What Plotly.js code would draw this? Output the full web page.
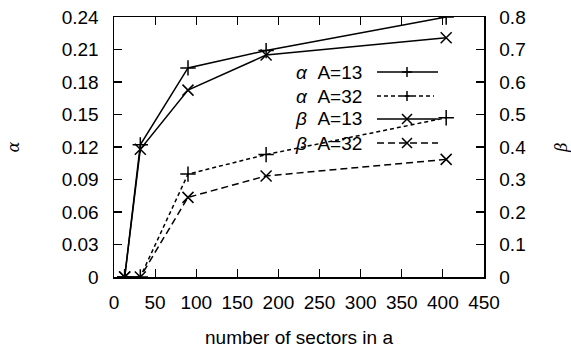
<!DOCTYPE html>
<html>
<head>
<meta charset="utf-8">
<script src="https://cdn.plot.ly/plotly-3.0.1.min.js"></script>
<style>html,body{margin:0;padding:0;background:#fff;}#chart{width:571px;height:348px;}</style>
</head>
<body>
<div id="chart"></div>
<script>
// Data
const sectors = [13, 32, 90, 185, 404];
const alphaA13 = [0, 0.122, 0.193, 0.209, 0.240];
const alphaA32 = [0, 0, 0.095, 0.113, 0.147];
const betaA13 = [0, 0.393, 0.575, 0.683, 0.736];
const betaA32 = [0, 0, 0.245, 0.311, 0.362];
const seriesNames = ['<i>α</i>  A=13', '<i>α</i>  A=32', '<i>β</i>  A=13', '<i>β</i>  A=32'];
const xTicks = [0, 50, 100, 150, 200, 250, 300, 350, 400, 450];
const yTicks = [0, 0.03, 0.06, 0.09, 0.12, 0.15, 0.18, 0.21, 0.24];
const y2Ticks = [0, 0.1, 0.2, 0.3, 0.4, 0.5, 0.6, 0.7, 0.8];

const FONT = 'Liberation Sans, Arial, sans-serif';
const W = 571, H = 348, L = 114, R = 87, T = 17, B = 71;
const styles = [
  {dash: 'solid', symbol: 'cross-thin-open', axis: 'y'},
  {dash: '4px,3px', symbol: 'cross-thin-open', axis: 'y'},
  {dash: 'solid', symbol: 'x-thin-open', axis: 'y2'},
  {dash: '7px,4px', symbol: 'x-thin-open', axis: 'y2'}
];
const ys = [alphaA13, alphaA32, betaA13, betaA32];

const traces = ys.map((v, i) => ({
  x: sectors, y: v, yaxis: styles[i].axis, type: 'scatter', mode: 'lines+markers',
  name: seriesNames[i], showlegend: false,
  line: {color: '#000', width: 1.5, dash: styles[i].dash},
  marker: {symbol: styles[i].symbol, size: 11, color: '#000', line: {color: '#000', width: 1.5}}
}));

// Custom gnuplot-style key: text right-aligned, sample on the right
const px = x => (x - L) / (W - L - R);
const py = y => 1 - (y - T) / (H - T - B);
const keyY = [72, 96, 119, 143];
const keyEnd = [438, 434, 438, 438];
const shapes = [], annotations = [];
keyY.forEach((yy, i) => {
  annotations.push({xref: 'paper', yref: 'paper', x: px(364), y: py(yy), xanchor: 'right', yanchor: 'middle',
    text: seriesNames[i], showarrow: false, font: {family: FONT, size: 19, color: '#000'}});
  shapes.push({type: 'line', xref: 'paper', yref: 'paper', x0: px(377), x1: px(keyEnd[i]), y0: py(yy), y1: py(yy),
    line: {color: '#000', width: 1.5, dash: styles[i].dash}});
  const cx = 407, s = 5;
  const path = styles[i].symbol.startsWith('cross')
    ? `M${px(cx - s)},${py(yy)} L${px(cx + s)},${py(yy)} M${px(cx)},${py(yy - s)} L${px(cx)},${py(yy + s)}`
    : `M${px(cx - s)},${py(yy - s)} L${px(cx + s)},${py(yy + s)} M${px(cx - s)},${py(yy + s)} L${px(cx + s)},${py(yy - s)}`;
  shapes.push({type: 'path', xref: 'paper', yref: 'paper', path: path, line: {color: '#000', width: 1.5}});
});

const axisBase = {
  showline: true, linecolor: '#000', linewidth: 1.5, ticks: 'inside', ticklen: 8, tickwidth: 1.2,
  tickcolor: '#000', showgrid: false, zeroline: false, tickfont: {family: FONT, size: 19, color: '#000'},
  ticklabelstandoff: 10
};

const layout = {
  width: W, height: H, margin: {l: L, r: R, t: T, b: B}, paper_bgcolor: '#fff', plot_bgcolor: '#fff',
  showlegend: false,
  xaxis: Object.assign({}, axisBase, {range: [0, 450], tickvals: xTicks, ticktext: xTicks.map(String),
    mirror: 'ticks', ticklabelstandoff: 8,
    title: {text: 'number of sectors in a', font: {family: FONT, size: 19, color: '#000'}, standoff: 18}}),
  yaxis: Object.assign({}, axisBase, {range: [0, 0.24], tickvals: yTicks, ticktext: yTicks.map(v => v === 0 ? '0' : v.toFixed(2)),
    title: {text: '<i>α</i>', font: {family: 'DejaVu Serif, serif', size: 16, color: '#000'}, standoff: 38}}),
  yaxis2: Object.assign({}, axisBase, {range: [0, 0.8], tickvals: y2Ticks, ticktext: y2Ticks.map(v => v === 0 ? '0' : v.toFixed(1)),
    overlaying: 'y', side: 'right',
    title: {text: '<i>β</i>', font: {family: 'DejaVu Serif, serif', size: 16, color: '#000'}, standoff: 38}}),
  shapes: shapes, annotations: annotations
};

Plotly.newPlot('chart', traces, layout, {staticPlot: true, displayModeBar: false});
</script>
</body>
</html>
